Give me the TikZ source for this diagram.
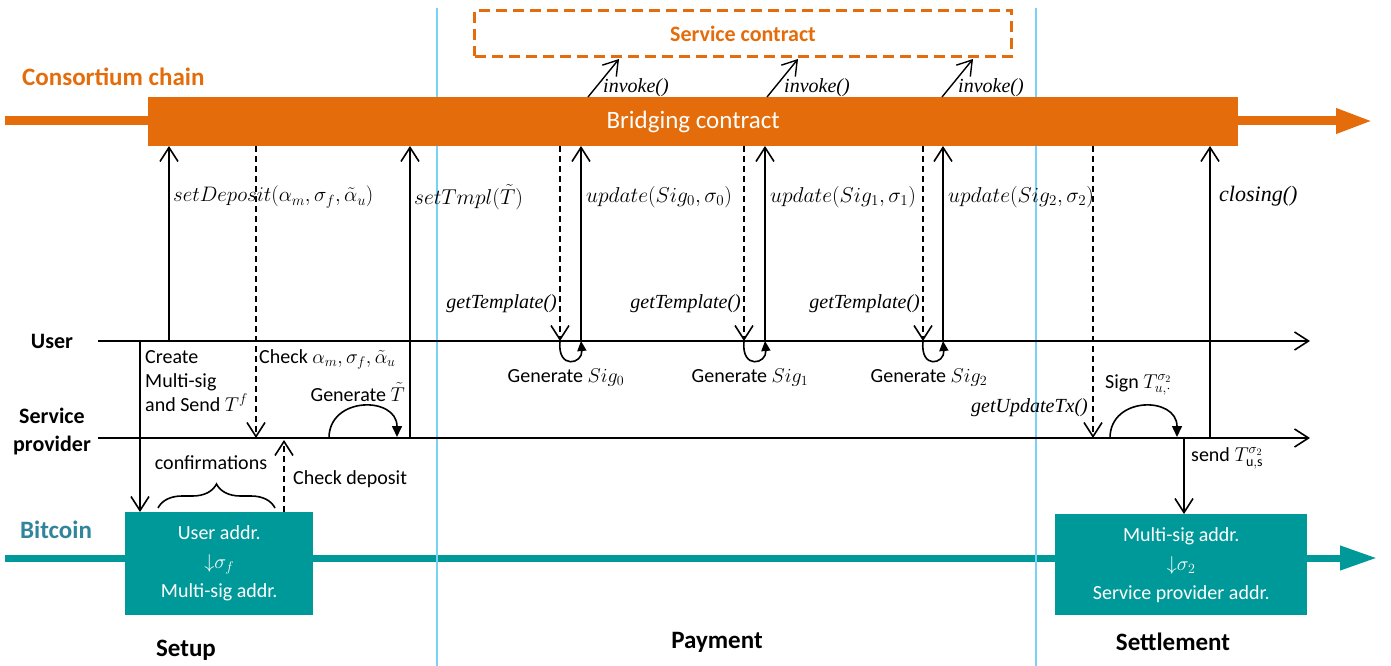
\documentclass[tikz,border=0pt]{standalone}
\usepackage{fix-cm}
\usepackage{fontspec}
\setmainfont{Carlito}
\newfontfamily\tmsfont{Liberation Serif}
\usetikzlibrary{arrows.meta,decorations.pathreplacing}
\definecolor{corange}{RGB}{228,108,10}
\definecolor{cteal}{RGB}{0,153,153}
\definecolor{cbtc}{RGB}{49,132,155}
\definecolor{cblue}{RGB}{120,210,245}
\begin{document}
\begin{tikzpicture}[x=1pt,y=-1pt,
  every node/.style={inner sep=0pt},
  body/.style={font=\fontsize{20}{24}\selectfont},
  headL/.style={font=\bfseries\fontsize{25}{30}\selectfont},
  head/.style={font=\bfseries\fontsize{22}{28}\selectfont},
  fn/.style={font=\tmsfont\itshape\fontsize{20}{24}\selectfont},
  mth/.style={font=\fontsize{21.5}{26}\selectfont},
  wire/.style={line width=1.6pt},
  msg/.style={wire, -{Straight Barb[length=14pt,width=18pt]}},
  dmsg/.style={msg, dash pattern=on 6pt off 4pt},
  curl/.style={wire, -{Triangle[length=11pt,width=10pt]}},
  chain/.style={line width=8pt, -{Triangle[length=37pt,width=23pt]}},
  bcbox/.style={fill=cteal, text=white, align=center, anchor=north west, font=\fontsize{20}{29}\selectfont},
]
\useasboundingbox (0,0) rectangle (1391,666);

% ---- coordinates
\coordinate (cL) at (5,121); \coordinate (cR) at (1373,121);
\coordinate (bL) at (5,558); \coordinate (bR) at (1377,558);
\coordinate (v1t) at (437,8); \coordinate (v1b) at (437,666);
\coordinate (v2t) at (1036,8); \coordinate (v2b) at (1036,666);
\coordinate (uL) at (98,341); \coordinate (uR) at (1310,341);
\coordinate (sL) at (98,438); \coordinate (sR) at (1310,438);

% ---- chains
\draw[chain, cteal, line width=7pt] (bL) -- (bR);
\draw[cblue, line width=2pt] (v1t) -- (v1b);
\draw[cblue, line width=2pt] (v2t) -- (v2b);
\draw[chain, corange, line width=9pt] (cL) -- (cR);

\node[fill=corange, minimum width=1090, minimum height=49, anchor=north west,
      text=white, font=\fontsize{25}{30}\selectfont] (bridge) at (148,97) {Bridging contract};
\node[draw=corange, line width=3pt, dash pattern=on 11pt off 6pt, minimum width=537,
      minimum height=46, anchor=north west, text=corange,
      font=\bfseries\fontsize{22}{26}\selectfont] (svc) at (473,9) {Service contract};

% ---- invoke arrows
\coordinate (i1a) at (588,97); \coordinate (i1b) at (619,59);
\coordinate (i2a) at (767,97); \coordinate (i2b) at (798,59);
\coordinate (i3a) at (942,97); \coordinate (i3b) at (973,59);
\draw[msg, line width=1.4pt] (i1a) -- (i1b);
\draw[msg, line width=1.4pt] (i2a) -- (i2b);
\draw[msg, line width=1.4pt] (i3a) -- (i3b);
\node[fn, anchor=west] (inv1) at (603,88) {invoke()};
\node[fn, anchor=west] (inv2) at (784,88) {invoke()};
\node[fn, anchor=west] (inv3) at (958,88) {invoke()};

% ---- lanes
\draw[msg] (uL) -- (uR);
\draw[msg] (sL) -- (sR);

\node[headL, text=corange, anchor=west] (lcc) at (22,77) {Consortium chain};
\node[head] (luser) at (52,341) {User};
\node[head, align=center] (lsp) at (52,432) {Service\\provider};
\node[headL, text=cbtc] (lbtc) at (56,530) {Bitcoin};
\node[headL] (lsetup) at (186,650) {Setup};
\node[headL] (lpay) at (717,642) {Payment};
\node[headL] (lsettle) at (1173,642) {Settlement};

% ---- bitcoin boxes
\node[bcbox, minimum width=188, minimum height=103] (ua) at (125,512)
  {User addr.\\${\downarrow}\sigma_f$\\Multi-sig addr.};
\node[bcbox, minimum width=252, minimum height=101] (ms) at (1055,514)
  {Multi-sig addr.\\${\downarrow}\sigma_2$\\Service provider addr.};

% ---- setup phase
\coordinate (crA) at (140,341); \coordinate (crB) at (140,512);
\coordinate (sdA) at (169,341); \coordinate (sdB) at (169,146);
\coordinate (ckA) at (256,146); \coordinate (ckB) at (256,438);
\coordinate (stA) at (410,438); \coordinate (stB) at (410,146);
\coordinate (cdA) at (284,512); \coordinate (cdB) at (284,440);
\coordinate (gtA) at (329,438); \coordinate (gtB) at (397,437);
\coordinate (brA) at (158,508); \coordinate (brB) at (275,508);

\draw[msg] (crA) -- (crB);
\draw[msg] (sdA) -- (sdB);
\draw[dmsg] (ckA) -- (ckB);
\draw[msg] (stA) -- (stB);
\draw[dmsg] (cdA) -- (cdB);
\draw[curl] (gtA) .. controls (329,396) and (397,396) .. (gtB);
\draw[wire, decorate, decoration={brace, amplitude=24pt}] (brA) -- (brB);

\node[mth, anchor=west, font=\fontsize{21}{26}\selectfont] (lsd) at (173,197) {$setDeposit(\alpha_m,\sigma_f,\tilde{\alpha}_u)$};
\node[mth, anchor=west] (lst) at (414,197) {$setTmpl\bigl(\tilde{T}\bigr)$};
\node[body, anchor=north west, align=left] (lcr) at (145,350) {Create\\Multi-sig\\and Send $T^f$};
\node[body, anchor=west] (lck) at (259,359) {Check $\alpha_m,\sigma_f,\tilde{\alpha}_u$};
\node[body, anchor=east] (lgt) at (405,392) {Generate $\tilde{T}$};
\node[body] (lconf) at (211,463) {confirmations};
\node[body, anchor=west] (lcd) at (293,479) {Check deposit};

% ---- payment phase
\coordinate (g0A) at (560,146); \coordinate (g0B) at (560,341);
\coordinate (u0A) at (581,341); \coordinate (u0B) at (581,146);
\coordinate (g1A) at (744,146); \coordinate (g1B) at (744,341);
\coordinate (u1A) at (765,341); \coordinate (u1B) at (765,146);
\coordinate (g2A) at (923,146); \coordinate (g2B) at (923,341);
\coordinate (u2A) at (943,341); \coordinate (u2B) at (943,146);

\draw[dmsg] (g0A) -- (g0B);
\draw[msg] (u0A) -- (u0B);
\draw[dmsg] (g1A) -- (g1B);
\draw[msg] (u1A) -- (u1B);
\draw[dmsg] (g2A) -- (g2B);
\draw[msg] (u2A) -- (u2B);
\draw[curl, -{Triangle[length=10pt,width=9pt]}] (g0B) .. controls (557,370) and (583,364) .. (u0A);
\draw[curl, -{Triangle[length=10pt,width=9pt]}] (g1B) .. controls (741,370) and (767,364) .. (u1A);
\draw[curl, -{Triangle[length=10pt,width=9pt]}] (g2B) .. controls (920,370) and (945,364) .. (u2A);

\node[fn, anchor=east] (lg0) at (557,304) {getTemplate()};
\node[fn, anchor=east] (lg1) at (741,304) {getTemplate()};
\node[fn, anchor=east] (lg2) at (920,304) {getTemplate()};
\node[mth, anchor=west] (lu0) at (586,197) {$update(Sig_0,\sigma_0)$};
\node[mth, anchor=west] (lu1) at (770,197) {$update(Sig_1,\sigma_1)$};
\node[mth, anchor=west] (lu2) at (948,197) {$update(Sig_2,\sigma_2)$};
\node[body] (lgs0) at (566,378) {Generate $Sig_0$};
\node[body] (lgs1) at (750,378) {Generate $Sig_1$};
\node[body] (lgs2) at (929,378) {Generate $Sig_2$};

% ---- settlement phase
\coordinate (guA) at (1093,146); \coordinate (guB) at (1093,438);
\coordinate (clA) at (1210,438); \coordinate (clB) at (1210,146);
\coordinate (snA) at (1184,438); \coordinate (snB) at (1184,514);
\coordinate (sgA) at (1110,438); \coordinate (sgB) at (1177,437);

\draw[dmsg] (guA) -- (guB);
\draw[msg] (clA) -- (clB);
\draw[msg] (snA) -- (snB);
\draw[curl] (sgA) .. controls (1110,396) and (1177,396) .. (sgB);

\node[fn, anchor=east] (lgu) at (1088,408) {getUpdateTx()};
\node[fn, anchor=west, font=\tmsfont\itshape\fontsize{22}{26}\selectfont] (lcl) at (1219,196) {closing()};
\node[body, anchor=west] (lsg) at (1105,385) {Sign $T^{\sigma_2}_{u,\cdot}$};
\node[body, anchor=west] (lsn) at (1191,458) {send $T^{\sigma_2}_{\mathrm{u,s}}$};
\end{tikzpicture}
\end{document}
